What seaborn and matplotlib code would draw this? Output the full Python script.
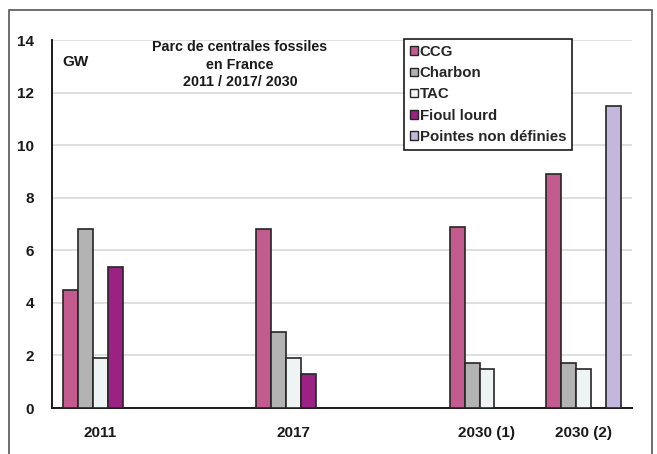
import numpy as np
import pandas as pd
import matplotlib
matplotlib.use("Agg")
import matplotlib.pyplot as plt
from matplotlib.patches import Patch, Rectangle
import seaborn as sns

# Périodes (les colonnes vides servent d'espacement entre les années)
categories = ["2011", " ", "2017", "  ", "2030 (1)", "2030 (2)"]
series = ["CCG", "Charbon", "TAC", "Fioul lourd", "Pointes non définies"]

# Puissance installée (GW)
ccg = [4.5, np.nan, 6.8, np.nan, 6.9, 8.9]
charbon = [6.8, np.nan, 2.9, np.nan, 1.7, 1.7]
tac = [1.9, np.nan, 1.9, np.nan, 1.5, 1.5]
fioul = [5.35, np.nan, 1.3, np.nan, np.nan, np.nan]
pointes = [np.nan, np.nan, np.nan, np.nan, np.nan, 11.5]

colors = ["#c45b8f", "#b3b3b3", "#eef4f4", "#9b2183", "#c3b7de"]

rows = []
for name, vals in zip(series, [ccg, charbon, tac, fioul, pointes]):
    for cat, v in zip(categories, vals):
        rows.append({"periode": cat, "filiere": name, "GW": v})
df = pd.DataFrame(rows)

sns.set_style("white")
plt.rcParams["font.family"] = ["Liberation Sans", "DejaVu Sans"]
plt.rcParams["font.weight"] = "bold"

fig = plt.figure(figsize=(6.57, 4.54), dpi=100)
ax = fig.add_axes([52 / 657, 46 / 454, 580 / 657, 368 / 454])

sns.barplot(data=df, x="periode", y="GW", hue="filiere", order=categories,
            hue_order=series, palette=colors, saturation=1, width=5 / 6.5,
            edgecolor="#262626", linewidth=1.2, errorbar=None,
            legend=False, ax=ax, zorder=3)

ax.set_xlim(-0.5, len(categories) - 0.5)
ax.set_ylim(0, 14)
ax.set_yticks(range(0, 15, 2))
ax.yaxis.grid(True, color="#dcdcdc", linewidth=1.3, zorder=0)
ax.set_axisbelow(True)

for s in ["top", "right"]:
    ax.spines[s].set_visible(False)
for s in ["left", "bottom"]:
    ax.spines[s].set_color("#1a1a1a")
    ax.spines[s].set_linewidth(1.4)

ax.set_xlabel("")
ax.set_ylabel("")
ax.tick_params(axis="y", direction="out", length=4, width=1.2, color="#1a1a1a",
               labelsize=11, pad=9)
ax.tick_params(axis="x", which="major", length=0, labelsize=11, pad=13)
ax.set_xticks(np.arange(-0.5, len(categories), 1.0), minor=True)
ax.tick_params(axis="x", which="minor", direction="out", length=4, width=1.2,
               color="#1a1a1a")
for lab in ax.get_xticklabels() + ax.get_yticklabels():
    lab.set_fontweight("bold")
    lab.set_color("#1a1a1a")

# Légende
handles = [Patch(facecolor=c, edgecolor="#262626", linewidth=1.0) for c in colors]
leg = ax.legend(handles, series, loc="upper left",
                bbox_to_anchor=((404 - 52) / 580, (408 - 39) / 368),
                frameon=True, fancybox=False, framealpha=1, edgecolor="#1a1a1a",
                prop={"weight": "bold", "size": 10.8}, handlelength=0.5,
                handleheight=0.5, handletextpad=0.15, labelspacing=0.48,
                borderpad=0.4, borderaxespad=0)
leg.get_frame().set_linewidth(1.2)

# Titre et unité
fig.text(240 / 657, 1 - 40 / 454,
         "Parc de centrales fossiles\nen France\n2011 / 2017/ 2030",
         ha="center", va="top", fontsize=10.3, fontweight="bold",
         color="#1a1a1a", linespacing=1.32)
fig.text(62 / 657, 1 - 62 / 454, "GW", ha="left", va="center",
         fontsize=11, fontweight="bold", color="#1a1a1a")

# Cadre extérieur
fig.patches.append(Rectangle((8.5 / 657, -0.05), (651.5 - 8.5) / 657,
                             1.05 - 10.5 / 454, transform=fig.transFigure,
                             fill=False, edgecolor="#555555", linewidth=1.2))

fig.savefig("out.png", dpi=100)
